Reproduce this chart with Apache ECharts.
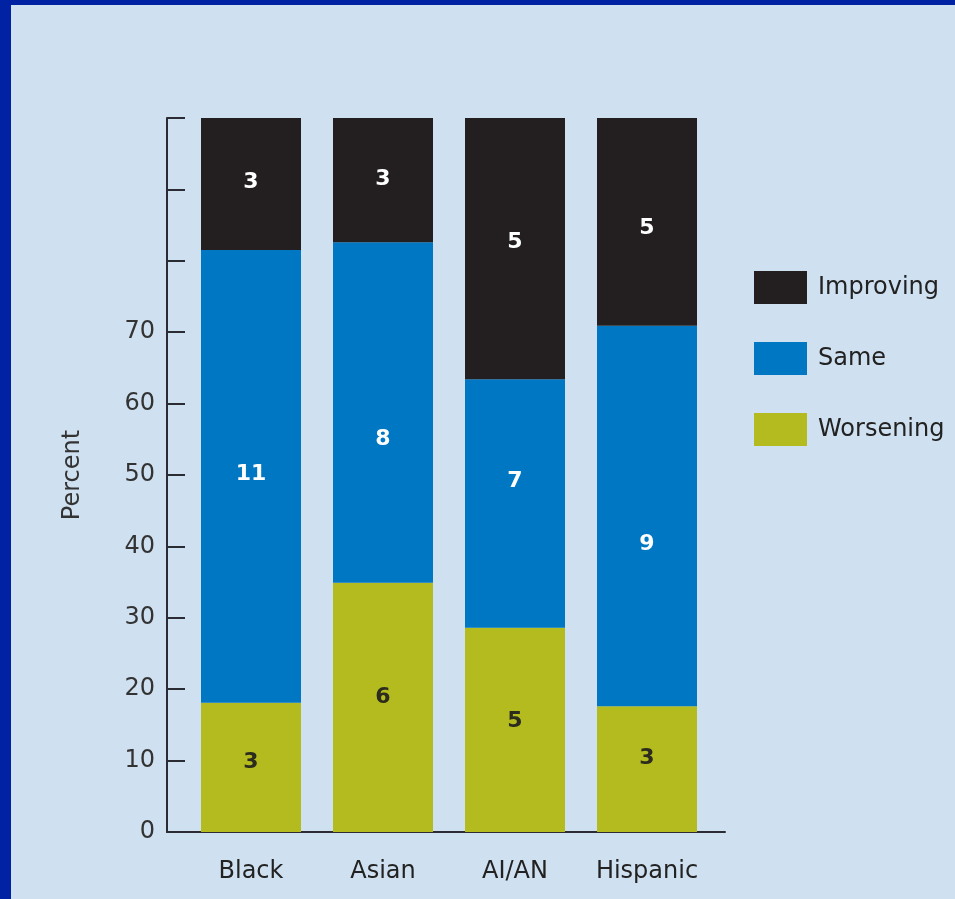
<!DOCTYPE html>
<html>
<head>
<meta charset="utf-8">
<script src="https://cdn.jsdelivr.net/npm/echarts@6/dist/echarts.min.js"></script>
<style>
  html, body { margin: 0; padding: 0; width: 955px; height: 899px; background: #0022a3; overflow: hidden; }
  #chart { position: absolute; left: 11px; top: 5px; width: 944px; height: 894px; background: #cfe0f0; }
</style>
</head>
<body>
<div id="chart"></div>
<script>
// Categories and values (percent of measures)
const categories = ['Black', 'Asian', 'AI/AN', 'Hispanic'];
const worseningPct = [18.1, 34.9, 28.6, 17.6];
const samePct      = [63.4, 47.7, 34.8, 53.3];
const improvingPct = [18.5, 17.4, 36.6, 29.1];
// Counts printed in the segments
const worseningCount = [3, 6, 5, 3];
const sameCount      = [11, 8, 7, 9];
const improvingCount = [3, 3, 5, 5];
// Y tick labels shown
const yTickLabels = [0, 10, 20, 30, 40, 50, 60, 70];

const FONT = "'DejaVu Sans', 'Liberation Sans', Arial, sans-serif";
const AXIS_COLOR = '#2b2b33';

// label vertical nudges (style only)
const labelNudge = {
  Worsening: [-5, -10, -9, -11],
  Same: [-2, 27, -22, 28],
  Improving: [-2, -1, -6, 6]
};

function makeSeries(name, values, counts, color, labelColor) {
  return {
    name: name,
    type: 'bar',
    stack: 'total',
    xAxisIndex: 1,
    yAxisIndex: 1,
    barWidth: 100,
    itemStyle: { color: color },
    data: values.map((v, i) => ({
      value: v,
      label: { offset: [0, labelNudge[name][i]] }
    })),
    label: {
      show: true,
      position: 'inside',
      fontFamily: FONT,
      fontSize: 22,
      fontWeight: 'bold',
      color: labelColor,
      formatter: p => String(counts[p.dataIndex])
    }
  };
}

const chart = echarts.init(document.getElementById('chart'), null, { renderer: 'canvas' });
chart.setOption({
  backgroundColor: '#cfe0f0',
  animation: false,
  textStyle: { fontFamily: FONT },
  grid: [
    { left: 156, top: 113, width: 558, height: 714 },
    { left: 174, top: 113, width: 528, height: 714 }
  ],
  legend: {
    data: ['Improving', 'Same', 'Worsening'],
    orient: 'vertical',
    left: 738,
    top: 261,
    itemWidth: 53,
    itemHeight: 33,
    itemGap: 38,
    icon: 'rect',
    textStyle: { fontFamily: FONT, fontSize: 24, color: '#222', padding: [0, 0, 0, 6] }
  },
  xAxis: [
    {
      gridIndex: 0,
      type: 'category',
      data: [''],
      axisLine: { show: true, lineStyle: { color: AXIS_COLOR, width: 2 } },
      axisTick: { show: false },
      axisLabel: { show: false }
    },
    {
      gridIndex: 1,
      type: 'category',
      data: categories,
      axisLine: { show: false },
      axisTick: { show: false },
      axisLabel: { interval: 0, hideOverlap: false, fontFamily: FONT, fontSize: 24, color: '#222', margin: 28 }
    }
  ],
  yAxis: [
    {
      gridIndex: 0,
      type: 'value',
      min: 0,
      max: 100,
      interval: 10,
      name: 'Percent',
      nameLocation: 'middle',
      nameRotate: 90,
      nameGap: 82,
      nameTextStyle: { fontFamily: FONT, fontSize: 24, color: '#333' },
      axisLine: { show: true, lineStyle: { color: AXIS_COLOR, width: 2 } },
      axisTick: { show: true, inside: true, length: 18, lineStyle: { color: AXIS_COLOR, width: 2 } },
      axisLabel: {
        fontFamily: FONT, fontSize: 24, color: '#333', margin: 12,
        formatter: v => (yTickLabels.indexOf(v) >= 0 ? String(v) : '')
      },
      splitLine: { show: false }
    },
    {
      gridIndex: 1,
      type: 'value',
      min: 0,
      max: 100,
      show: false,
      splitLine: { show: false }
    }
  ],
  series: [
    makeSeries('Worsening', worseningPct, worseningCount, '#b3bb1f', '#2b2b1e'),
    makeSeries('Same', samePct, sameCount, '#0077c2', '#ffffff'),
    makeSeries('Improving', improvingPct, improvingCount, '#231f20', '#ffffff')
  ]
});
</script>
</body>
</html>
